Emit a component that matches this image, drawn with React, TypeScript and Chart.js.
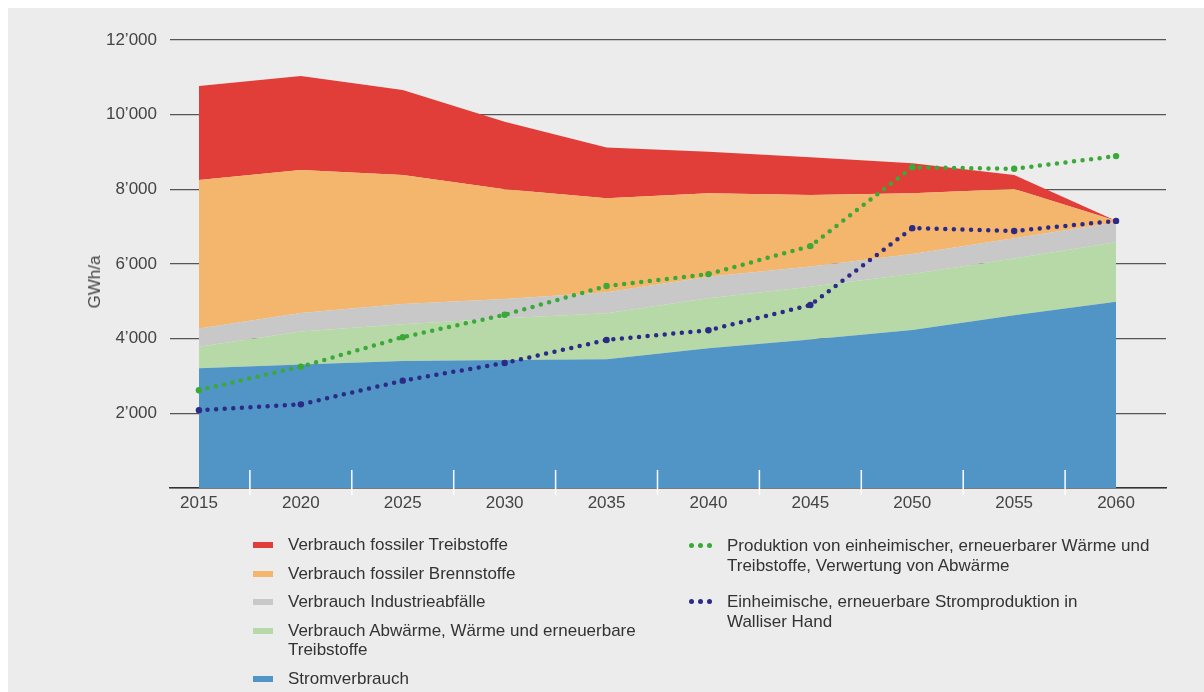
import React, { useEffect, useRef } from "react";
import { Chart, registerables } from "chart.js";

Chart.register(...registerables);

const years = [2015, 2020, 2025, 2030, 2035, 2040, 2045, 2050, 2055, 2060];
const yTicks = [0, 2000, 4000, 6000, 8000, 10000, 12000];

// stacked area components (GWh/a)
const stromverbrauch = [3210, 3310, 3400, 3430, 3450, 3740, 3980, 4230, 4630, 4990];
const abwaerme = [570, 880, 985, 1120, 1230, 1340, 1410, 1500, 1520, 1590];
const industrieabfaelle = [490, 500, 545, 510, 560, 580, 540, 540, 540, 530];
const brennstoffe = [3980, 3830, 3455, 2940, 2520, 2235, 1920, 1625, 1320, 50];
const treibstoffe = [2520, 2515, 2275, 1810, 1360, 1115, 1010, 805, 375, 0];

// dotted production lines
const produktionWaerme = [2620, 3250, 4040, 4640, 5410, 5730, 6480, 8590, 8550, 8890];
const produktionStrom = [2085, 2240, 2875, 3350, 3965, 4225, 4900, 6960, 6885, 7155];

const areaLabels = [
  "Verbrauch fossiler Treibstoffe",
  "Verbrauch fossiler Brennstoffe",
  "Verbrauch Industrieabfälle",
  "Verbrauch Abwärme, Wärme und erneuerbare\nTreibstoffe",
  "Stromverbrauch",
];
const areaColors = ["#e13e39", "#f4b56d", "#c8c8c8", "#b7d9a7", "#5194c6"];
const lineLabels = [
  "Produktion von einheimischer, erneuerbarer Wärme und\nTreibstoffe, Verwertung von Abwärme",
  "Einheimische, erneuerbare Stromproduktion in\nWalliser Hand",
];
const lineColors = ["#3aa937", "#2b2a86"];
const yTitle = "GWh/a";

const FONT = "'Liberation Sans', Arial, Helvetica, sans-serif";

const fmt = (v: number) => {
  if (v === 0) return "";
  const s = String(v);
  return s.slice(0, s.length - 3) + "\u2019" + s.slice(s.length - 3);
};

const tickMarks = {
  id: "tickMarks",
  afterDatasetsDraw(chart: any) {
    const xs = chart.scales.x;
    const ctx = chart.ctx;
    const b = chart.chartArea.bottom;
    ctx.save();
    ctx.strokeStyle = "#ffffff";
    ctx.lineWidth = 1.5;
    for (let i = 0; i < years.length - 1; i++) {
      const x = xs.getPixelForValue((years[i] + years[i + 1]) / 2);
      ctx.beginPath();
      ctx.moveTo(x, b - 18);
      ctx.lineTo(x, b + 7);
      ctx.stroke();
    }
    ctx.restore();
  },
};

export default function App() {
  const ref = useRef<HTMLCanvasElement>(null);
  useEffect(() => {
    document.documentElement.style.overflow = "hidden";
    const toPts = (arr: number[]) => arr.map((v, i) => ({ x: years[i], y: v }));
    const area = (label: string, data: number[], color: string, fill: any) => ({
      label,
      data: toPts(data),
      backgroundColor: color,
      borderColor: color,
      borderWidth: 0,
      pointRadius: 0,
      fill,
      tension: 0,
      yAxisID: "y",
      order: 1,
    });
    const dotted = (label: string, data: number[], color: string) => ({
      label,
      data: toPts(data),
      borderColor: color,
      backgroundColor: color,
      borderWidth: 4.5,
      borderDash: [0, 8.6],
      borderCapStyle: "round",
      pointRadius: 3.2,
      pointBorderWidth: 0,
      pointBackgroundColor: color,
      fill: false,
      tension: 0,
      yAxisID: "y2",
      order: 0,
    });
    const chart = new Chart(ref.current as HTMLCanvasElement, {
      type: "line",
      data: {
        datasets: [
          area(areaLabels[4], stromverbrauch, areaColors[4], "origin"),
          area(areaLabels[3], abwaerme, areaColors[3], "-1"),
          area(areaLabels[2], industrieabfaelle, areaColors[2], "-1"),
          area(areaLabels[1], brennstoffe, areaColors[1], "-1"),
          area(areaLabels[0], treibstoffe, areaColors[0], "-1"),
          dotted(lineLabels[0], produktionWaerme, lineColors[0]),
          dotted(lineLabels[1], produktionStrom, lineColors[1]),
        ] as any,
      },
      options: {
        animation: false,
        responsive: false,
        layout: { padding: { left: 0, right: 38, top: 32, bottom: 0 } },
        plugins: { legend: { display: false }, tooltip: { enabled: false } },
        scales: {
          x: {
            type: "linear",
            min: 2013.58,
            max: 2062.45,
            afterBuildTicks: (s: any) => {
              s.ticks = years.map((v) => ({ value: v }));
            },
            afterFit: (s: any) => {
              s.height = 204;
            },
            grid: { display: false, drawTicks: false },
            border: { display: true, color: "#333333", width: 1.5 },
            ticks: {
              callback: (v: any) => String(v),
              font: { family: FONT, size: 17 },
              color: "#444444",
              padding: 5,
              maxRotation: 0,
              autoSkip: false,
            },
          },
          y: {
            stacked: true,
            min: 0,
            max: 12000,
            afterBuildTicks: (s: any) => {
              s.ticks = yTicks.map((v) => ({ value: v }));
            },
            afterFit: (s: any) => {
              s.width = 162;
            },
            grid: { color: "#555555", lineWidth: 1.2, drawTicks: false },
            border: { display: false },
            ticks: {
              callback: (v: any) => fmt(v),
              font: { family: FONT, size: 17 },
              color: "#444444",
              padding: 13,
            },
          },
          y2: {
            display: false,
            stacked: false,
            min: 0,
            max: 12000,
          },
        },
      } as any,
      plugins: [tickMarks],
    });
    return () => chart.destroy();
  }, []);

  const leftItems = [0, 1, 2, 3, 4];
  return (
    <div
      style={{
        position: "fixed",
        left: 8,
        top: 8,
        right: 0,
        bottom: 0,
        background: "#ececec",
        fontFamily: FONT,
      }}
    >
      <canvas ref={ref} width={1196} height={684} style={{ display: "block" }} />
      <div
        style={{
          position: "absolute",
          left: 87,
          top: 274,
          transform: "translate(-50%, -50%) rotate(-90deg)",
          fontSize: 17,
          color: "#444444",
          whiteSpace: "nowrap",
        }}
      >
        {yTitle}
      </div>
      <div
        style={{
          position: "absolute",
          left: 245,
          top: 527,
          display: "flex",
          flexDirection: "column",
          gap: 9.7,
        }}
      >
        {leftItems.map((i) => (
          <div key={i} style={{ display: "flex", alignItems: "flex-start" }}>
            <div
              style={{
                width: 20,
                height: 6,
                marginTop: 7,
                background: areaColors[i],
                flex: "none",
              }}
            />
            <div
              style={{
                marginLeft: 15,
                fontSize: 17,
                lineHeight: "19px",
                color: "#333333",
                whiteSpace: "pre-line",
              }}
            >
              {areaLabels[i]}
            </div>
          </div>
        ))}
      </div>
      <div
        style={{
          position: "absolute",
          left: 681,
          top: 528,
          display: "flex",
          flexDirection: "column",
          gap: 17,
        }}
      >
        {[0, 1].map((i) => (
          <div key={i} style={{ display: "flex", alignItems: "flex-start" }}>
            <div style={{ display: "flex", gap: 4, marginTop: 7, width: 24, flex: "none" }}>
              {[0, 1, 2].map((k) => (
                <div
                  key={k}
                  style={{ width: 5, height: 5, borderRadius: "50%", background: lineColors[i] }}
                />
              ))}
            </div>
            <div
              style={{
                marginLeft: 14,
                fontSize: 17,
                lineHeight: "19.5px",
                color: "#333333",
                whiteSpace: "pre-line",
              }}
            >
              {lineLabels[i]}
            </div>
          </div>
        ))}
      </div>
    </div>
  );
}
